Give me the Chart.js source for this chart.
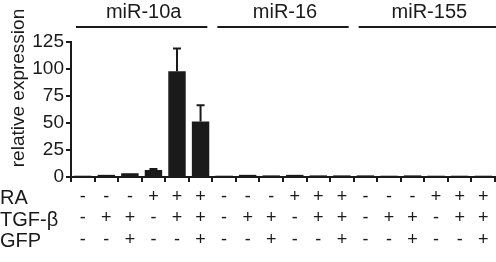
<!DOCTYPE html>
<html><head><meta charset="utf-8">
<script src="https://cdn.jsdelivr.net/npm/chart.js@4/dist/chart.umd.min.js"></script>
<style>html,body{margin:0;padding:0;background:#fff}#wrap{width:496px;height:262px}</style>
</head><body><div id="wrap"><canvas id="c" width="496" height="262"></canvas></div>
<script>
const groups = ['miR-10a', 'miR-16', 'miR-155'];
const RA  = ['-','-','-','+','+','+', '-','-','-','+','+','+', '-','-','-','+','+','+'];
const TGF = ['-','+','+','-','+','+', '-','+','+','-','+','+', '-','+','+','-','+','+'];
const GFP = ['-','-','+','-','-','+', '-','-','+','-','-','+', '-','-','+','-','-','+'];
const rowNames = ['RA', 'TGF-β', 'GFP'];
const values = [1.2, 2, 3.5, 6.5, 98, 51.5, 1.2, 2, 1.5, 2, 1.5, 1.5, 1.5, 1.2, 1.5, 1.2, 1.2, 1.2];
const errors = [0.3, 0.4, 0.6, 1, 21, 15, 0.2, 0.3, 0.2, 0.3, 0.2, 0.2, 0.2, 0.2, 0.2, 0.2, 0.2, 0.2];
const yTicks = [0, 25, 50, 75, 100, 125];

const labels = RA.map((r, i) => [r, TGF[i], GFP[i]]);
const FONT = '"Liberation Sans", Arial, sans-serif';

const extras = {
  id: 'extras',
  afterDatasetsDraw(chart) {
    const ctx = chart.ctx;
    const meta = chart.getDatasetMeta(0);
    const y = chart.scales.y;
    const x = chart.scales.x;
    ctx.save();
    // error bars
    ctx.strokeStyle = '#1a1a1a';
    ctx.lineWidth = 2;
    meta.data.forEach((bar, i) => {
      const top = y.getPixelForValue(values[i]);
      const et = y.getPixelForValue(values[i] + errors[i]);
      if (top - et < 1) return;
      ctx.beginPath();
      ctx.moveTo(bar.x, top);
      ctx.lineTo(bar.x, et);
      ctx.moveTo(bar.x - 4, et);
      ctx.lineTo(bar.x + 4, et);
      ctx.stroke();
    });
    // group lines and labels
    const w = x.getPixelForValue(1) - x.getPixelForValue(0);
    ctx.fillStyle = '#1a1a1a';
    ctx.font = '20px ' + FONT;
    ctx.textAlign = 'center';
    ctx.textBaseline = 'middle';
    groups.forEach((g, gi) => {
      const x0 = x.getPixelForValue(gi * 6) - w / 2 + 5;
      let x1 = x.getPixelForValue(gi * 6 + 5) + w / 2 - 5;
      if (gi === groups.length - 1) x1 = chart.width;
      ctx.beginPath();
      ctx.moveTo(x0, 27);
      ctx.lineTo(x1, 27);
      ctx.stroke();
      ctx.fillText(g, (x0 + x1) / 2 + 2, 12);
    });
    // row names
    ctx.textAlign = 'left';
    const rowY = [198, 220, 241];
    rowNames.forEach((r, i) => ctx.fillText(r, 0, rowY[i]));
    // y title
    ctx.save();
    ctx.font = '19px ' + FONT;
    ctx.translate(19, 88);
    ctx.rotate(-Math.PI / 2);
    ctx.textAlign = 'center';
    ctx.fillText('relative expression', 0, 0);
    ctx.restore();
    ctx.restore();
  }
};

new Chart(document.getElementById('c'), {
  type: 'bar',
  data: {
    labels: labels,
    datasets: [{
      data: values,
      backgroundColor: '#1a1a1a',
      borderWidth: 0,
      barPercentage: 0.74,
      categoryPercentage: 1
    }]
  },
  options: {
    responsive: false,
    animation: false,
    devicePixelRatio: 1,
    layout: { padding: { top: 42, right: 1, left: 0, bottom: 0 } },
    plugins: { legend: { display: false }, tooltip: { enabled: false } },
    scales: {
      x: {
        offset: true,
        grid: { drawOnChartArea: false, drawTicks: true, tickLength: 5, color: '#1a1a1a', lineWidth: 2 },
        border: { display: true, color: '#1a1a1a', width: 2 },
        ticks: { color: '#1a1a1a', font: { family: FONT, size: 18 }, padding: 4, maxRotation: 0, autoSkip: false },
        afterFit(s) { s.height = 85; }
      },
      y: {
        min: 0, max: 125,
        afterBuildTicks(s) { s.ticks = yTicks.map(v => ({ value: v })); },
        grid: { drawOnChartArea: false, drawTicks: true, tickLength: 5, color: '#1a1a1a', lineWidth: 2 },
        border: { display: true, color: '#1a1a1a', width: 2 },
        ticks: { color: '#1a1a1a', font: { family: FONT, size: 19 }, padding: 2 },
        afterFit(s) { s.width = 71; }
      }
    }
  },
  plugins: [extras]
});
</script>
</body></html>
